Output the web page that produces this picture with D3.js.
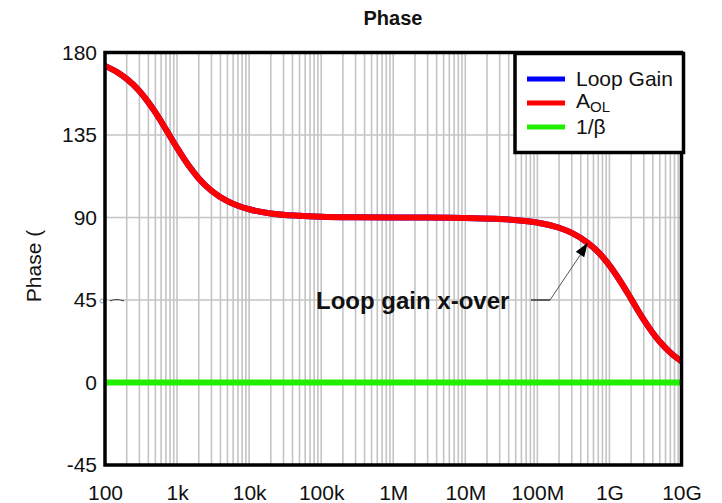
<!DOCTYPE html>
<html>
<head>
<meta charset="utf-8">
<script src="https://cdn.jsdelivr.net/npm/d3@7"></script>
<style>
  html, body { margin: 0; padding: 0; background: #fff; }
  svg { display: block; font-family: Arial, "Liberation Sans", sans-serif; }
</style>
</head>
<body>
<svg id="chart" width="722" height="503"></svg>
<script>
// Frequency sample points (Hz)
const freqs = [100, 150, 200, 300, 400, 500, 700, 1e3, 1.5e3, 2e3, 3e3, 5e3, 7e3, 1e4, 2e4, 5e4, 1e5,
  3e5, 1e6, 3e6, 1e7, 3e7, 1e8, 2e8, 3e8, 5e8, 7e8, 1e9, 1.5e9, 2e9, 3e9, 5e9, 7e9, 1e10];
// Open-loop gain phase (degrees)
const aolPhase = [172.7, 169.1, 165.6, 159.0, 152.8, 147.3, 138.1, 128.0, 117.5, 111.3, 104.6, 98.9, 96.4, 94.5, 92.2, 90.9, 90.4,
  90.1, 90.0, 90.0, 89.7, 89.2, 87.2, 84.4, 81.6, 76.2, 71.1, 63.9, 53.7, 45.6, 34.2, 22.2, 16.3, 11.5];
// Loop gain phase (degrees) - coincides with A_OL
const loopGainPhase = [172.7, 169.1, 165.6, 159.0, 152.8, 147.3, 138.1, 128.0, 117.5, 111.3, 104.6, 98.9, 96.4, 94.5, 92.2, 90.9, 90.4,
  90.1, 90.0, 90.0, 89.7, 89.2, 87.2, 84.4, 81.6, 76.2, 71.1, 63.9, 53.7, 45.6, 34.2, 22.2, 16.3, 11.5];
// 1/beta phase (degrees)
const invBetaFreqs = [100, 1e10];
const invBetaPhase = [0, 0];

// Axis ticks
const xTickValues = [1e2, 1e3, 1e4, 1e5, 1e6, 1e7, 1e8, 1e9, 1e10];
const xTickLabels = ["100", "1k", "10k", "100k", "1M", "10M", "100M", "1G", "10G"];
const yTickValues = [-45, 0, 45, 90, 135, 180];

// Annotation: crossover point
const crossoverFreq = 5e8;
const crossoverPhase = 76.2;

const svg = d3.select("#chart");
const plotL = 105, plotR = 681.5, plotT = 52.5, plotB = 465;
const FONT = "Arial, 'Liberation Sans', sans-serif";

const x = d3.scaleLog().domain([100, 1e10]).range([plotL, plotR]);
const y = d3.scaleLinear().domain([-45, 180]).range([plotB, plotT]);

// Title
svg.append("text")
  .attr("x", 393).attr("y", 25)
  .attr("text-anchor", "middle")
  .attr("font-size", 20).attr("font-weight", "bold")
  .attr("fill", "#111")
  .text("Phase");

// Vertical grid at every 1..9 multiple of each decade
const gridX = [];
for (let d = 2; d < 10; d++) {
  for (let m = 1; m <= 9; m++) {
    const f = m * Math.pow(10, d);
    if (f > 100 && f < 1e10) gridX.push(f);
  }
}
const grid = svg.append("g").attr("stroke", "#c4c4c4").attr("stroke-width", 1.6);
grid.selectAll("line.v").data(gridX).join("line")
  .attr("class", "v")
  .attr("x1", d => x(d)).attr("x2", d => x(d))
  .attr("y1", plotT).attr("y2", plotB);
grid.selectAll("line.h").data(yTickValues.slice(1, -1)).join("line")
  .attr("class", "h")
  .attr("x1", plotL).attr("x2", plotR)
  .attr("y1", d => y(d)).attr("y2", d => y(d));

// Axes
const xAxis = d3.axisBottom(x)
  .tickValues(xTickValues)
  .tickFormat((d, i) => xTickLabels[i])
  .tickSize(0).tickPadding(20);
const gx = svg.append("g").attr("transform", `translate(0,${plotB})`).call(xAxis);
gx.select(".domain").remove();
gx.selectAll("text").attr("font-size", 21).attr("fill", "#111").attr("font-family", FONT);

const yAxis = d3.axisLeft(y)
  .tickValues(yTickValues)
  .tickFormat(d => String(d))
  .tickSize(0).tickPadding(8);
const gy = svg.append("g").attr("transform", `translate(${plotL},0)`).call(yAxis);
gy.select(".domain").remove();
gy.selectAll("text").attr("font-size", 21).attr("fill", "#111").attr("font-family", FONT);

// Y axis title
svg.append("text")
  .attr("transform", "translate(41,266) rotate(-90)")
  .attr("text-anchor", "middle")
  .attr("font-size", 21).attr("fill", "#111")
  .text("Phase (");

// Series
const line = d3.line()
  .x(d => x(d[0])).y(d => y(d[1]))
  .curve(d3.curveMonotoneX);

svg.append("path")
  .datum(invBetaFreqs.map((f, i) => [f, invBetaPhase[i]]))
  .attr("d", line).attr("fill", "none")
  .attr("stroke", "#22ee00").attr("stroke-width", 6);

svg.append("path")
  .datum(freqs.map((f, i) => [f, loopGainPhase[i]]))
  .attr("d", line).attr("fill", "none")
  .attr("stroke", "#0000ff").attr("stroke-width", 6);

svg.append("path")
  .datum(freqs.map((f, i) => [f, aolPhase[i]]))
  .attr("d", line).attr("fill", "none")
  .attr("stroke", "#ff0000").attr("stroke-width", 6)
  .attr("stroke-linejoin", "round");

// Small marker beside the 45 label
svg.append("circle")
  .attr("cx", 102).attr("cy", y(45) + 1).attr("r", 2)
  .attr("fill", "none").attr("stroke", "#7f9fc8").attr("stroke-width", 1);
svg.append("path")
  .attr("d", `M110,${y(45) + 1} Q116,${y(45) - 2} 124,${y(45) + 1}`)
  .attr("fill", "none").attr("stroke", "#333").attr("stroke-width", 1.2);

// Crossover annotation
const tipX = x(crossoverFreq), tipY = y(crossoverPhase);
svg.append("text")
  .attr("x", 316).attr("y", 309)
  .attr("font-size", 24).attr("font-weight", "bold").attr("fill", "#111")
  .text("Loop gain x-over");
const kneeX = 550, kneeY = y(45);
svg.append("path")
  .attr("d", `M531,${kneeY} L${kneeX},${kneeY}`)
  .attr("stroke", "#333").attr("stroke-width", 1.5).attr("fill", "none");
svg.append("path")
  .attr("d", `M${kneeX},${kneeY} L${tipX - 4},${tipY + 7}`)
  .attr("stroke", "#555").attr("stroke-width", 1).attr("fill", "none");
// Arrowhead
const ang = Math.atan2(tipY - kneeY, tipX - kneeX);
const ah = 14, aw = 5;
const bx = tipX - ah * Math.cos(ang), by = tipY - ah * Math.sin(ang);
svg.append("path")
  .attr("d", `M${tipX},${tipY} L${bx + aw * Math.sin(ang)},${by - aw * Math.cos(ang)} L${bx - aw * Math.sin(ang)},${by + aw * Math.cos(ang)} Z`)
  .attr("fill", "#000");

// Plot frame
svg.append("rect")
  .attr("x", plotL).attr("y", plotT)
  .attr("width", plotR - plotL).attr("height", plotB - plotT)
  .attr("fill", "none").attr("stroke", "#000").attr("stroke-width", 3.5);

// Legend
const legendItems = [
  { label: "Loop Gain", color: "#0000ff" },
  { label: "A", sub: "OL", color: "#ff0000" },
  { label: "1/β", color: "#22ee00" }
];
const lg = svg.append("g");
lg.append("rect")
  .attr("x", 515).attr("y", 53.5).attr("width", 168.5).attr("height", 99)
  .attr("fill", "#fff").attr("stroke", "#000").attr("stroke-width", 3.5);
legendItems.forEach((it, i) => {
  const cy = 79 + i * 24;
  lg.append("line")
    .attr("x1", 527).attr("x2", 565).attr("y1", cy).attr("y2", cy)
    .attr("stroke", it.color).attr("stroke-width", 5);
  const t = lg.append("text")
    .attr("x", 576).attr("y", cy + (it.sub ? 5 : 7))
    .attr("font-size", 21).attr("fill", "#111");
  t.append("tspan").text(it.label);
  if (it.sub) {
    t.append("tspan").attr("dy", 4).attr("font-size", 15).text(it.sub);
  }
});
</script>
</body>
</html>
